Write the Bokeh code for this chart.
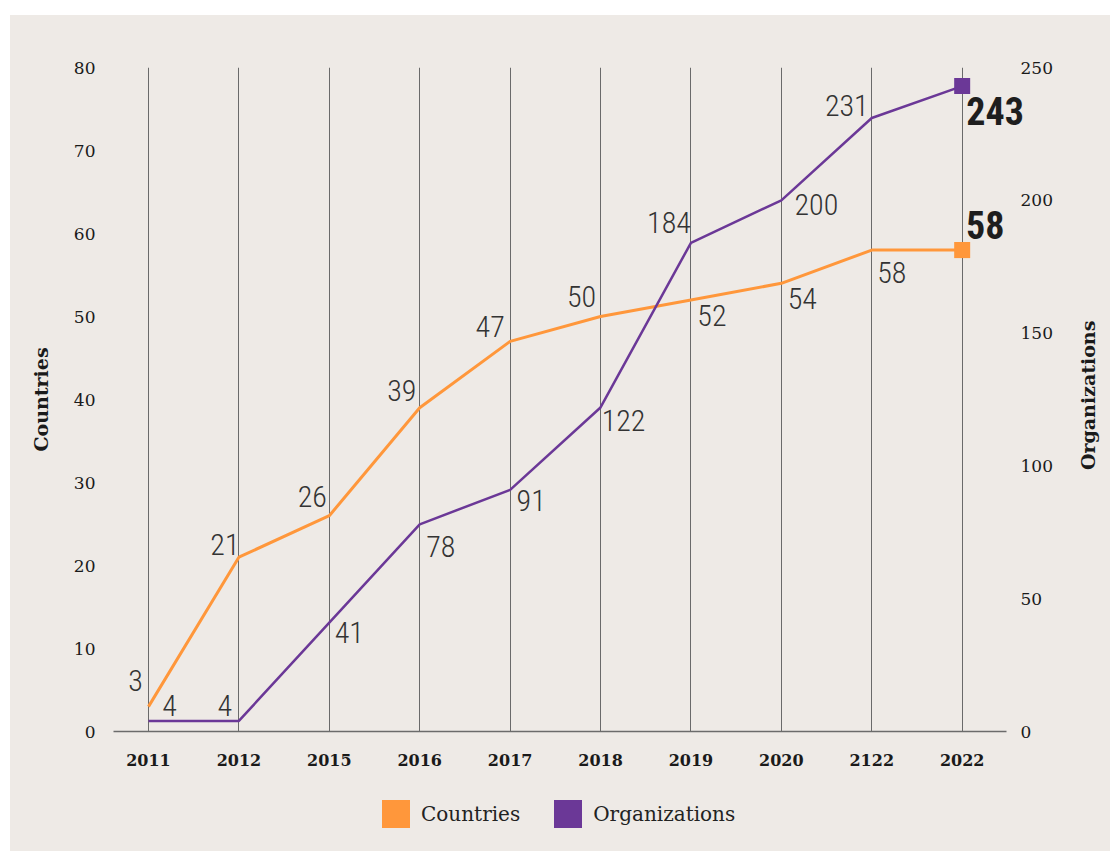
from bokeh.plotting import figure
from bokeh.layouts import column
from bokeh.models import (Range1d, LinearAxis, FixedTicker, Legend, LegendItem,
                          ColumnDataSource, Label)
from bokeh.core.properties import value
from bokeh.embed import file_html
from bokeh.resources import INLINE
from math import pi

# ---- data ----
years = ["2011", "2012", "2015", "2016", "2017", "2018", "2019", "2020", "2122", "2022"]
countries = [3, 21, 26, 39, 47, 50, 52, 54, 58, 58]
organizations = [4, 4, 41, 78, 91, 122, 184, 200, 231, 243]
left_ticks = [0, 10, 20, 30, 40, 50, 60, 70, 80]
right_ticks = [0, 50, 100, 150, 200, 250]

# ---- label placement (pixels, styles) ----
c_dx = [-13, -14, -17, -18, -20, -19, 21, 21, 20]
c_dy = [-26, -13, -19, -17, -15, -20, 16, 15, 22]
o_dx = [21, -14, 20, 21, 21, 23, -22, 35, -25]
o_dy = [-15, -15, 10, 22, 11, 13, -20, 4, -12]

BG = "#EEEAE6"
ORANGE = "#FF973B"
PURPLE = "#6B3897"
SERIF = "DejaVu Serif"
NARROW = ("Roboto Condensed Light, Roboto Condensed, Liberation Sans Narrow, "
          "DejaVu Sans Condensed, Roboto Light, Roboto, sans-serif")
NARROW_B = ("Roboto Condensed, Liberation Sans Narrow, DejaVu Sans Condensed, "
            "Roboto, sans-serif")

xs = list(range(len(years)))
x_start = -0.387
x_axis_end = len(years) - 1 + 0.49

p = figure(frame_width=987, frame_height=664,
           min_border_left=103, min_border_right=10,
           min_border_top=52, min_border_bottom=45,
           x_range=Range1d(x_start, 10.53), y_range=Range1d(0, 80),
           output_backend="svg", toolbar_location=None,
           background_fill_color=None, border_fill_color=None,
           outline_line_color=None)
p.margin = (15, 0, 0, 10)
p.styles = {"background-color": BG}

# x axis
xa = p.xaxis[0]
xa.ticker = FixedTicker(ticks=xs)
xa.bounds = (x_start, x_axis_end)
xa.major_label_overrides = {i: y for i, y in enumerate(years)}
xa.axis_line_color = "#6b6b6b"
xa.axis_line_width = 1.5
xa.major_tick_in = 0
xa.major_tick_out = 0
xa.minor_tick_in = 0
xa.minor_tick_out = 0
xa.major_tick_line_color = None
xa.minor_tick_line_color = None
xa.major_label_text_font = SERIF
xa.major_label_text_font_size = "16px"
xa.major_label_text_font_style = "bold"
xa.major_label_text_color = "#1a1a1a"
xa.major_label_standoff = 22

p.xgrid.ticker = FixedTicker(ticks=xs)
p.xgrid.grid_line_color = "#6a6a6a"
p.xgrid.grid_line_width = 1
p.ygrid.grid_line_color = None

# left axis
ya = p.yaxis[0]
ya.ticker = FixedTicker(ticks=left_ticks)
ya.axis_line_color = None
ya.major_tick_in = 0
ya.major_tick_out = 0
ya.minor_tick_in = 0
ya.minor_tick_out = 0
ya.major_tick_line_color = None
ya.minor_tick_line_color = None
ya.major_label_text_font = SERIF
ya.major_label_text_font_size = "17px"
ya.major_label_text_color = "#1a1a1a"
ya.major_label_standoff = 18
ya.axis_label = "Countries"
ya.axis_label_text_font = SERIF
ya.axis_label_text_font_size = "19px"
ya.axis_label_text_font_style = "bold"
ya.axis_label_text_color = "#1a1a1a"
ya.axis_label_standoff = 19

# right axis
p.extra_y_ranges = {"org": Range1d(0, 250)}
ra = LinearAxis(y_range_name="org", ticker=FixedTicker(ticks=right_ticks))
ra.axis_line_color = None
ra.major_tick_in = 0
ra.major_tick_out = 0
ra.minor_tick_in = 0
ra.minor_tick_out = 0
ra.major_tick_line_color = None
ra.minor_tick_line_color = None
ra.major_label_text_font = SERIF
ra.major_label_text_font_size = "17px"
ra.major_label_text_color = "#1a1a1a"
ra.major_label_standoff = -80
p.add_layout(ra, "right")

p.add_layout(Label(x=10.397, y=40.5, text="Organizations", angle=pi / 2,
                   text_align="center", text_baseline="middle",
                   text_font=SERIF, text_font_size="19px",
                   text_font_style="bold", text_color="#1a1a1a"))

# lines
p.line(xs, countries, line_color=ORANGE, line_width=3)
p.line(xs, organizations, line_color=PURPLE, line_width=2.5, y_range_name="org")

# end markers
p.scatter(xs[-1:], countries[-1:], marker="square", size=16,
          fill_color=ORANGE, line_color=None)
p.scatter(xs[-1:], organizations[-1:], marker="square", size=16,
          fill_color=PURPLE, line_color=None, y_range_name="org")

# value labels
csrc = ColumnDataSource(dict(x=xs[:-1], y=countries[:-1],
                             t=[str(v) for v in countries[:-1]], dx=c_dx, dy=c_dy))
osrc = ColumnDataSource(dict(x=xs[:-1], y=organizations[:-1],
                             t=[str(v) for v in organizations[:-1]], dx=o_dx, dy=o_dy))
p.text(x="x", y="y", text="t", x_offset="dx", y_offset="dy", source=csrc,
       text_align="center", text_baseline="middle",
       text_font=value(NARROW), text_font_size="30px", text_color="#333333")
p.text(x="x", y="y", text="t", x_offset="dx", y_offset="dy", source=osrc,
       y_range_name="org", text_align="center", text_baseline="middle",
       text_font=value(NARROW), text_font_size="30px", text_color="#333333")

# bold final labels
p.text(x=xs[-1:], y=countries[-1:], text=[str(countries[-1])],
       x_offset=23, y_offset=-25, text_align="center", text_baseline="middle",
       text_font=value(NARROW_B), text_font_size="38px", text_font_style="bold",
       text_color="#1e1e1e")
p.text(x=xs[-1:], y=organizations[-1:], text=[str(organizations[-1])],
       x_offset=33, y_offset=25, y_range_name="org",
       text_align="center", text_baseline="middle",
       text_font=value(NARROW_B), text_font_size="38px", text_font_style="bold",
       text_color="#1e1e1e")

# ---- legend strip below the chart ----
lg = figure(width=1100, height=75, min_border=0,
            x_range=Range1d(0, 1), y_range=Range1d(0, 1),
            x_axis_location=None, y_axis_location=None,
            output_backend="svg", toolbar_location=None,
            background_fill_color=None, border_fill_color=None,
            outline_line_color=None)
lg.margin = (0, 0, 0, 10)
lg.styles = {"background-color": BG}
lg.xgrid.visible = False
lg.ygrid.visible = False
r_c = lg.quad(left=xs, right=xs, top=countries, bottom=countries,
              fill_color=ORANGE, line_color=None, visible=False)
r_o = lg.quad(left=xs, right=xs, top=organizations, bottom=organizations,
              fill_color=PURPLE, line_color=None, visible=False)
legend = Legend(items=[LegendItem(label="Countries", renderers=[r_c]),
                       LegendItem(label="Organizations", renderers=[r_o])],
                orientation="horizontal", location=(265, 20),
                glyph_width=35, glyph_height=35, label_standoff=8, spacing=30,
                padding=0, margin=0, border_line_color=None,
                background_fill_alpha=0,
                label_text_font=SERIF, label_text_font_size="20px",
                label_text_color="#222222")
lg.add_layout(legend)

open("out.html", "w").write(file_html(column(p, lg, spacing=0), INLINE))
